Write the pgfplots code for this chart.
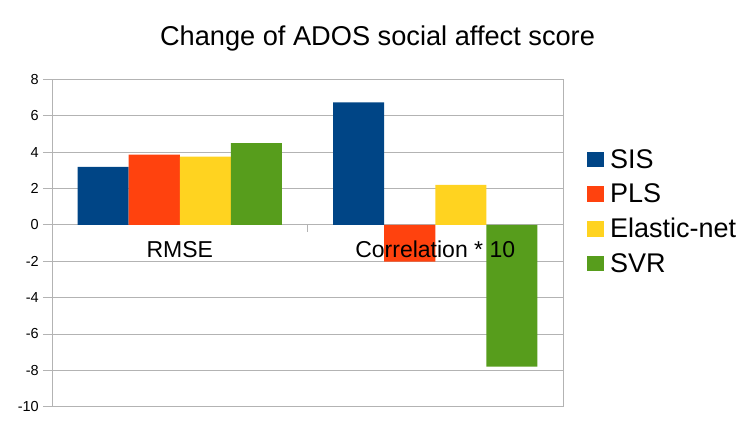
\documentclass[border=0pt]{standalone}
\usepackage{fontspec}
\setmainfont{Liberation Sans}
\usepackage{pgfplots}
\pgfplotsset{compat=1.18}
\definecolor{cSIS}{HTML}{004586}
\definecolor{cPLS}{HTML}{FF420E}
\definecolor{cEN}{HTML}{FFD320}
\definecolor{cSVR}{HTML}{579D1C}
\definecolor{gridgray}{HTML}{B3B3B3}
\begin{document}
\begin{tikzpicture}
\useasboundingbox (0,0) rectangle (756pt,425pt);
\node[anchor=base,font=\fontsize{27.2}{30}\selectfont] at (377.5pt,379.3pt) {Change of ADOS social affect score};
\begin{axis}[
  at={(52pt,18.3pt)}, anchor=south west,
  scale only axis, width=511pt, height=327.4pt,
  xmin=-0.5, xmax=1.5, ymin=-10, ymax=8,
  ytick={-10,-8,...,8},
  xtick=\empty,
  ymajorgrids, grid style={gridgray, line width=0.8pt},
  axis line style={gridgray, line width=0.8pt},
  tick style={gridgray, line width=0.8pt},
  tick align=outside, major tick length=9pt,
  ytick pos=left,
  /pgf/number format/assume math mode=true,
  yticklabel style={font=\fontsize{14.5}{16}\selectfont, inner sep=0pt, xshift=-4pt},
  ybar=0pt, bar width=51.1pt,
  legend cell align=left,
  legend image code/.code={\fill[#1] (0pt,-8pt) rectangle (16.5pt,7.5pt);},
  legend style={at={(1.047,0.597)}, anchor=west, draw=none, fill=none,
    inner sep=0pt, outer sep=0pt, row sep=16.8pt,
    font=\fontsize{27}{30}\selectfont,
    nodes={inner sep=0pt, text height=18pt, text depth=0pt},
    /tikz/every odd column/.append style={column sep=6.5pt}},
]
\addplot[fill=cSIS, draw=none] coordinates {(0,3.18) (1,6.73)};
\addplot[fill=cPLS, draw=none] coordinates {(0,3.86) (1,-2.02)};
\addplot[fill=cEN, draw=none] coordinates {(0,3.75) (1,2.2)};
\addplot[fill=cSVR, draw=none] coordinates {(0,4.49) (1,-7.8)};
\legend{SIS,PLS,Elastic-net,SVR}
\draw[gridgray, line width=0.8pt] (axis cs:0.5,0) -- ([yshift=-7pt]axis cs:0.5,0);
\node[anchor=base,font=\fontsize{23}{26}\selectfont] at (axis cs:0,0) [yshift=-32.4pt] {RMSE};
\node[anchor=base,font=\fontsize{23}{26}\selectfont] at (axis cs:1,0) [yshift=-32.4pt] {Correlation * 10};
\end{axis}
\end{tikzpicture}
\end{document}
